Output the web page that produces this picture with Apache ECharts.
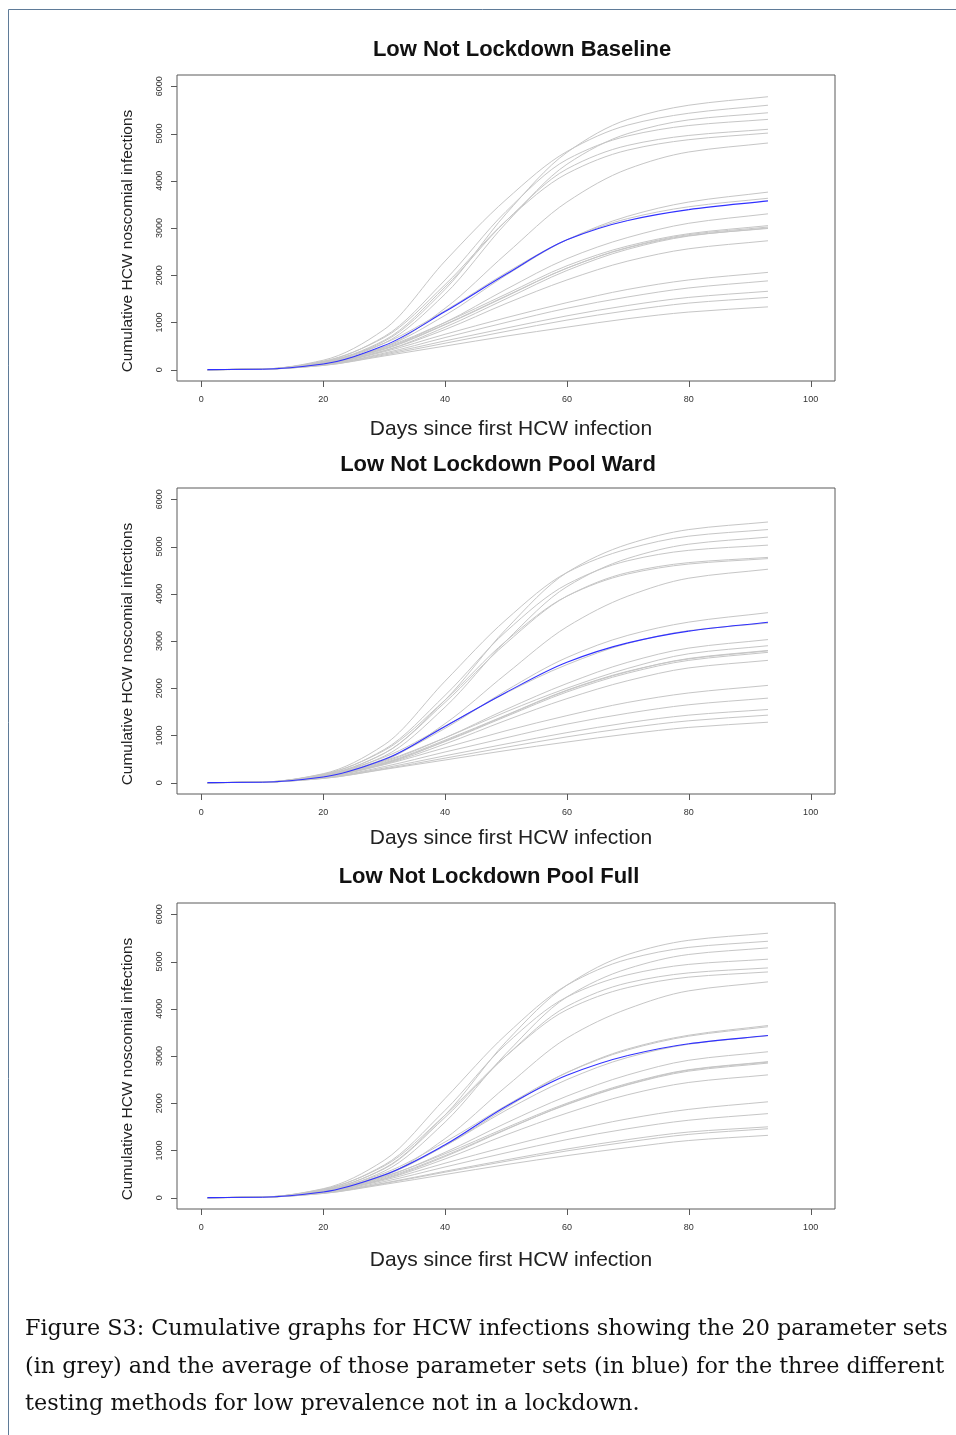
<!DOCTYPE html>
<html>
<head>
<meta charset="utf-8">
<script src="https://cdn.jsdelivr.net/npm/echarts@6/dist/echarts.min.js"></script>
<style>
  html, body { margin: 0; padding: 0; background: #ffffff; }
  #chart { width: 956px; height: 1435px; }
</style>
</head>
<body>
<div id="chart"></div>
<script>
// ---------- data ----------
const days = [1, 10, 20, 30, 40, 50, 60, 70, 80, 93];
const xTicks = [0, 20, 40, 60, 80, 100];
const yTicks = [0, 1000, 2000, 3000, 4000, 5000, 6000];

const panelTitles = ["Low Not Lockdown Baseline", "Low Not Lockdown Pool Ward", "Low Not Lockdown Pool Full"];
const xAxisTitle = "Days since first HCW infection";
const yAxisTitle = "Cumulative HCW noscomial infections";
const captionLines = [
  "Figure S3: Cumulative graphs for HCW infections showing the 20 parameter sets",
  "(in grey) and the average of those parameter sets (in blue) for the three different",
  "testing methods for low prevalence not in a lockdown."
];

// Panel 1: Baseline - 20 parameter sets
const baselineRuns = [
  [0, 10, 150, 600, 1700, 3300, 4600, 5300, 5600, 5780],
  [0, 12, 200, 850, 2300, 3600, 4620, 5180, 5430, 5600],
  [0, 10, 140, 560, 1600, 3100, 4350, 5000, 5290, 5440],
  [0, 12, 170, 700, 1900, 3350, 4450, 4950, 5170, 5300],
  [0, 10, 160, 620, 1750, 3150, 4250, 4750, 4960, 5090],
  [0, 12, 180, 680, 1800, 3150, 4150, 4650, 4870, 5010],
  [0, 10, 130, 480, 1300, 2450, 3550, 4250, 4610, 4800],
  [0, 10, 130, 480, 1150, 2000, 2750, 3250, 3550, 3760],
  [0, 12, 160, 560, 1250, 2050, 2750, 3200, 3450, 3630],
  [0, 10, 130, 450, 1000, 1700, 2350, 2800, 3100, 3300],
  [0, 10, 140, 470, 1000, 1600, 2200, 2620, 2880, 3050],
  [0, 10, 120, 400, 900, 1500, 2100, 2550, 2830, 3000],
  [0, 10, 130, 430, 950, 1550, 2150, 2580, 2840, 2990],
  [0, 10, 120, 400, 850, 1400, 1900, 2300, 2560, 2730],
  [0, 10, 130, 440, 960, 1560, 2150, 2590, 2860, 3020],
  [0, 10, 110, 380, 750, 1100, 1420, 1700, 1900, 2060],
  [0, 10, 100, 350, 680, 1000, 1300, 1540, 1730, 1880],
  [0, 10, 100, 330, 610, 880, 1140, 1360, 1530, 1660],
  [0, 10, 90, 310, 560, 810, 1050, 1250, 1410, 1530],
  [0, 10, 90, 290, 500, 710, 900, 1080, 1220, 1330]
];
const baselineMean = [0, 10, 120, 510, 1230, 2020, 2750, 3160, 3390, 3575];

// Panel 2: Pool Ward
const poolWardRuns = [
  [0, 10, 150, 620, 1750, 3250, 4450, 5050, 5360, 5520],
  [0, 12, 190, 800, 2150, 3450, 4450, 4950, 5220, 5360],
  [0, 10, 140, 560, 1600, 3000, 4150, 4750, 5050, 5200],
  [0, 12, 170, 700, 1850, 3200, 4200, 4700, 4920, 5030],
  [0, 10, 160, 620, 1700, 2950, 3950, 4450, 4660, 4770],
  [0, 12, 180, 680, 1750, 3000, 3950, 4420, 4630, 4745],
  [0, 10, 130, 470, 1250, 2300, 3300, 3950, 4330, 4520],
  [0, 10, 140, 500, 1150, 1950, 2650, 3120, 3400, 3600],
  [0, 12, 160, 540, 1200, 1900, 2500, 2950, 3220, 3380],
  [0, 10, 130, 440, 950, 1550, 2100, 2550, 2850, 3030],
  [0, 10, 140, 460, 950, 1500, 2000, 2420, 2730, 2900],
  [0, 10, 120, 400, 880, 1420, 1950, 2350, 2630, 2800],
  [0, 10, 130, 420, 900, 1430, 1960, 2360, 2620, 2790],
  [0, 10, 120, 410, 870, 1400, 1920, 2320, 2590, 2760],
  [0, 10, 120, 390, 820, 1320, 1780, 2160, 2430, 2590],
  [0, 10, 110, 380, 740, 1100, 1420, 1700, 1900, 2060],
  [0, 10, 100, 340, 650, 950, 1240, 1470, 1650, 1790],
  [0, 10, 100, 310, 570, 820, 1060, 1270, 1430, 1550],
  [0, 10, 90, 290, 520, 750, 970, 1160, 1310, 1430],
  [0, 10, 90, 280, 480, 680, 860, 1030, 1170, 1280]
];
const poolWardMean = [0, 10, 120, 490, 1190, 1910, 2550, 2960, 3210, 3396];

// Panel 3: Pool Full
const poolFullRuns = [
  [0, 10, 150, 620, 1750, 3300, 4500, 5150, 5450, 5600],
  [0, 12, 190, 790, 2100, 3450, 4500, 5050, 5300, 5430],
  [0, 10, 140, 560, 1600, 3050, 4250, 4850, 5150, 5290],
  [0, 12, 170, 690, 1850, 3250, 4250, 4720, 4940, 5050],
  [0, 10, 160, 610, 1700, 3000, 4050, 4550, 4760, 4865],
  [0, 12, 180, 670, 1750, 3000, 3980, 4450, 4670, 4780],
  [0, 10, 130, 470, 1250, 2350, 3380, 4000, 4380, 4570],
  [0, 10, 130, 470, 1100, 1900, 2650, 3150, 3440, 3645],
  [0, 12, 150, 520, 1180, 1950, 2650, 3130, 3420, 3620],
  [0, 10, 140, 490, 1100, 1850, 2500, 2970, 3250, 3430],
  [0, 10, 130, 440, 960, 1580, 2150, 2600, 2910, 3090],
  [0, 10, 140, 450, 930, 1480, 2000, 2420, 2710, 2880],
  [0, 10, 120, 400, 870, 1440, 1980, 2400, 2700, 2870],
  [0, 10, 130, 420, 890, 1450, 1970, 2390, 2680, 2850],
  [0, 10, 120, 390, 820, 1330, 1790, 2180, 2440, 2600],
  [0, 10, 110, 370, 730, 1080, 1400, 1670, 1870, 2030],
  [0, 10, 100, 340, 650, 950, 1230, 1460, 1640, 1780],
  [0, 10, 100, 310, 560, 800, 1030, 1230, 1390, 1500],
  [0, 10, 90, 300, 540, 770, 990, 1180, 1340, 1460],
  [0, 10, 90, 280, 490, 700, 890, 1060, 1210, 1320]
];
const poolFullMean = [0, 10, 120, 480, 1120, 1930, 2590, 3010, 3260, 3433];

// ---------- layout ----------
const panelRuns = [baselineRuns, poolWardRuns, poolFullRuns];
const panelMeans = [baselineMean, poolWardMean, poolFullMean];
const gridTops = [75, 488, 903];
const gridLeft = 177, gridWidth = 658, gridHeight = 306;
const X_MIN = -4, X_MAX = 104, Y_MIN = -240, Y_MAX = 6240;
const titleCenters = [[522, 50], [498, 465], [489, 877]];
const xTitleY = [429, 838, 1260];
const GREY = '#c6c6c6', BLUE = '#3030ff', AXIS = '#5a5a5a';
const TICK_LEN = 6;

const chart = echarts.init(document.getElementById('chart'), null, { renderer: 'canvas' });

const grids = [], xAxes = [], yAxes = [], series = [], graphics = [];
const FONT = '"Liberation Sans", Arial, Helvetica, sans-serif';

// Smooth monotone cubic curve through the data points, positioned by the axis scales (api.coord)
function curveRenderer(curves) {
  return function (params, api) {
    const k = params.dataIndex;
    const vals = curves[k];
    const isMean = (k === curves.length - 1);
    const pts = days.map((d, i) => api.coord([d, vals[i]]));
    const n = pts.length;
    const sec = [];
    for (let i = 0; i < n - 1; i++) {
      sec.push((pts[i + 1][1] - pts[i][1]) / (pts[i + 1][0] - pts[i][0]));
    }
    const m = new Array(n);
    m[0] = sec[0];
    m[n - 1] = sec[n - 2];
    for (let i = 1; i < n - 1; i++) {
      if (sec[i - 1] * sec[i] <= 0) { m[i] = 0; }
      else {
        const h0 = pts[i][0] - pts[i - 1][0], h1 = pts[i + 1][0] - pts[i][0];
        const w1 = 2 * h1 + h0, w2 = h1 + 2 * h0;
        m[i] = (w1 + w2) / (w1 / sec[i - 1] + w2 / sec[i]);
      }
    }
    const children = [];
    for (let i = 0; i < n - 1; i++) {
      const h = pts[i + 1][0] - pts[i][0];
      children.push({
        type: 'bezierCurve',
        shape: {
          x1: pts[i][0], y1: pts[i][1], x2: pts[i + 1][0], y2: pts[i + 1][1],
          cpx1: pts[i][0] + h / 3, cpy1: pts[i][1] + m[i] * h / 3,
          cpx2: pts[i + 1][0] - h / 3, cpy2: pts[i + 1][1] - m[i + 1] * h / 3
        },
        style: { stroke: isMean ? BLUE : GREY, lineWidth: isMean ? 1.1 : 1, fill: null }
      });
    }
    return { type: 'group', children: children };
  };
}

for (let p = 0; p < 3; p++) {
  grids.push({
    left: gridLeft, top: gridTops[p], width: gridWidth, height: gridHeight,
    show: true, borderColor: AXIS, borderWidth: 1
  });
  xAxes.push({
    type: 'value', gridIndex: p, min: X_MIN, max: X_MAX, position: 'bottom',
    axisLine: { show: false, onZero: false },
    axisTick: { show: false },
    axisLabel: { show: true, fontSize: 9, color: '#333', margin: 14, fontFamily: FONT,
                 customValues: xTicks, formatter: (v) => String(v) },
    splitLine: { show: false }
  });
  yAxes.push({
    type: 'value', gridIndex: p, min: Y_MIN, max: Y_MAX, position: 'left',
    axisLine: { show: false, onZero: false },
    axisTick: { show: false },
    axisLabel: { show: true, fontSize: 9, color: '#333', margin: 13, rotate: 90, fontFamily: FONT,
                 customValues: yTicks, formatter: (v) => String(v) },
    splitLine: { show: false }
  });
  const curves = panelRuns[p].concat([panelMeans[p]]);
  series.push({
    type: 'custom', coordinateSystem: 'cartesian2d', xAxisIndex: p, yAxisIndex: p,
    silent: true, clip: true,
    data: curves.map((c) => [days[days.length - 1], c[c.length - 1]]),
    renderItem: curveRenderer(curves)
  });

  graphics.push({
    type: 'text', x: titleCenters[p][0], y: titleCenters[p][1],
    style: { text: panelTitles[p], font: 'bold 22px ' + FONT, fill: '#111', align: 'center', verticalAlign: 'middle' }
  });
  graphics.push({
    type: 'text', x: 511, y: xTitleY[p],
    style: { text: xAxisTitle, font: '21px ' + FONT, fill: '#222', align: 'center', verticalAlign: 'middle' }
  });
  graphics.push({
    type: 'text', x: 128, y: gridTops[p] + 166, rotation: Math.PI / 2,
    style: { text: yAxisTitle, font: '15.5px ' + FONT, fill: '#222', align: 'center', verticalAlign: 'middle' }
  });
}

// page frame lines
graphics.push({ type: 'line', shape: { x1: 8.5, y1: 9.5, x2: 956, y2: 9.5 }, style: { stroke: '#5f7b98', lineWidth: 1 } });
graphics.push({ type: 'line', shape: { x1: 8.5, y1: 9.5, x2: 8.5, y2: 1435 }, style: { stroke: '#5f7b98', lineWidth: 1 } });

// caption
const captionY = [1329, 1367, 1404];
captionLines.forEach((t, i) => {
  graphics.push({
    type: 'text', x: 25, y: captionY[i],
    style: { text: t, font: '22.3px "DejaVu Serif", "Liberation Serif", serif', fill: '#111', align: 'left', verticalAlign: 'middle' }
  });
});

const option = {
  animation: false,
  backgroundColor: '#ffffff',
  grid: grids, xAxis: xAxes, yAxis: yAxes, series: series,
  graphic: graphics
};
chart.setOption(option);

// Tick marks, placed through the axis scales (R-style outward ticks at the box edge)
const tickEls = [];
for (let p = 0; p < 3; p++) {
  xTicks.forEach((v) => {
    const pt = chart.convertToPixel({ gridIndex: p }, [v, Y_MIN]);
    const x = Math.round(pt[0]) + 0.5, y = Math.round(pt[1]);
    tickEls.push({ type: 'line', shape: { x1: x, y1: y, x2: x, y2: y + TICK_LEN }, style: { stroke: AXIS, lineWidth: 1 } });
  });
  yTicks.forEach((v) => {
    const pt = chart.convertToPixel({ gridIndex: p }, [X_MIN, v]);
    const x = Math.round(pt[0]), y = Math.round(pt[1]) + 0.5;
    tickEls.push({ type: 'line', shape: { x1: x - TICK_LEN, y1: y, x2: x, y2: y }, style: { stroke: AXIS, lineWidth: 1 } });
  });
}
chart.setOption({ graphic: graphics.concat(tickEls) });
</script>
</body>
</html>
